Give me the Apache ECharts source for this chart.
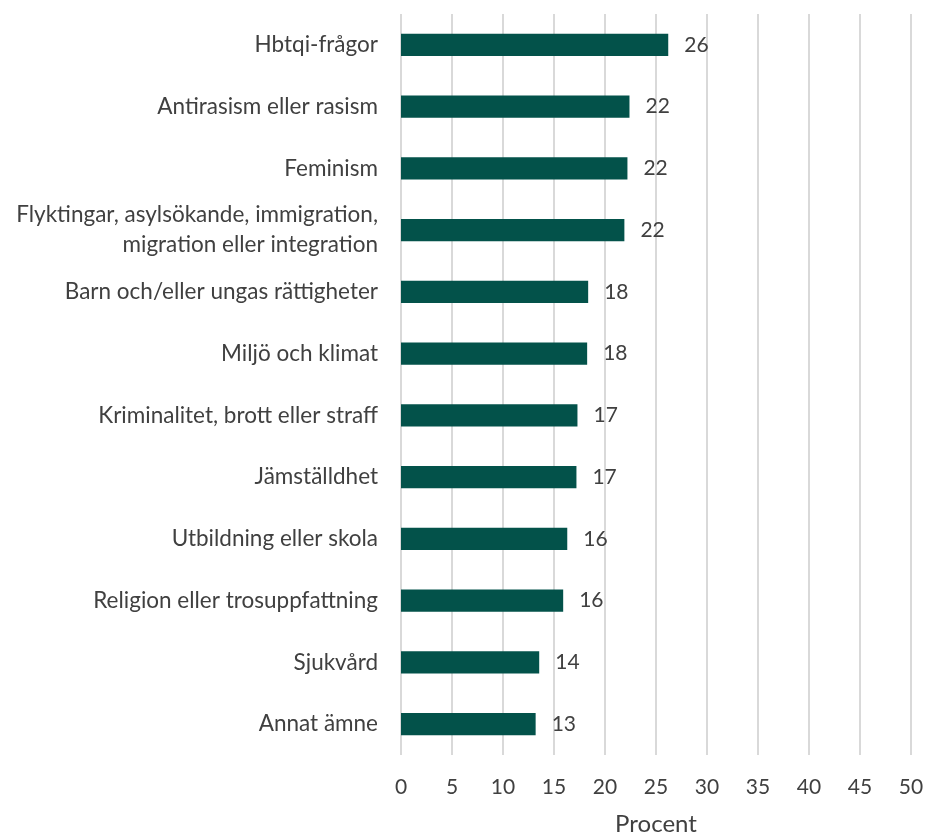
<!DOCTYPE html>
<html><head><meta charset="utf-8">
<script src="https://cdn.jsdelivr.net/npm/echarts@6/dist/echarts.min.js"></script>
<style>html,body{margin:0;padding:0;background:#fff}#c{width:925px;height:834px}</style>
</head><body><div id="c"></div>
<script>
const categories = [
  "Hbtqi-frågor",
  "Antirasism eller rasism",
  "Feminism",
  "Flyktingar, asylsökande, immigration,\nmigration eller integration",
  "Barn och/eller ungas rättigheter",
  "Miljö och klimat",
  "Kriminalitet, brott eller straff",
  "Jämställdhet",
  "Utbildning eller skola",
  "Religion eller trosuppfattning",
  "Sjukvård",
  "Annat ämne"
];
const values = [26.2, 22.4, 22.2, 21.9, 18.35, 18.25, 17.3, 17.2, 16.3, 15.9, 13.55, 13.2];
const valueLabels = ["26", "22", "22", "22", "18", "18", "17", "17", "16", "16", "14", "13"];
const xTicks = [0, 5, 10, 15, 20, 25, 30, 35, 40, 45, 50];

const FONT = "Lato";
const TXT = "#404040";
const chart = echarts.init(document.getElementById('c'), null, {renderer: 'canvas'});
chart.setOption({
  animation: false,
  textStyle: {fontFamily: FONT},
  grid: {left: 401, right: 14, top: 14, bottom: 79, containLabel: false, outerBoundsMode: 'none'},
  xAxis: {
    type: 'value', min: xTicks[0], max: xTicks[xTicks.length - 1], interval: 5,
    axisLine: {show: false}, axisTick: {show: false},
    splitLine: {show: true, lineStyle: {color: '#D9D9D9', width: 2}},
    axisLabel: {color: TXT, fontSize: 21, fontFamily: FONT, margin: 22},
    name: 'Procent', nameLocation: 'middle', nameGap: 57,
    nameTextStyle: {color: TXT, fontSize: 24, fontFamily: FONT}
  },
  yAxis: {
    type: 'category', data: categories, inverse: true,
    axisLine: {show: false}, axisTick: {show: false},
    axisLabel: {color: TXT, fontSize: 22.5, fontFamily: FONT, margin: 23, align: 'right', lineHeight: 30}
  },
  series: [{
    type: 'bar', data: values, barCategoryGap: '64%',
    itemStyle: {color: '#03524A'},
    label: {
      show: true, position: 'right', distance: 16, color: TXT, fontSize: 21, fontFamily: FONT,
      formatter: p => valueLabels[p.dataIndex]
    }
  }]
});
</script>
</body></html>
